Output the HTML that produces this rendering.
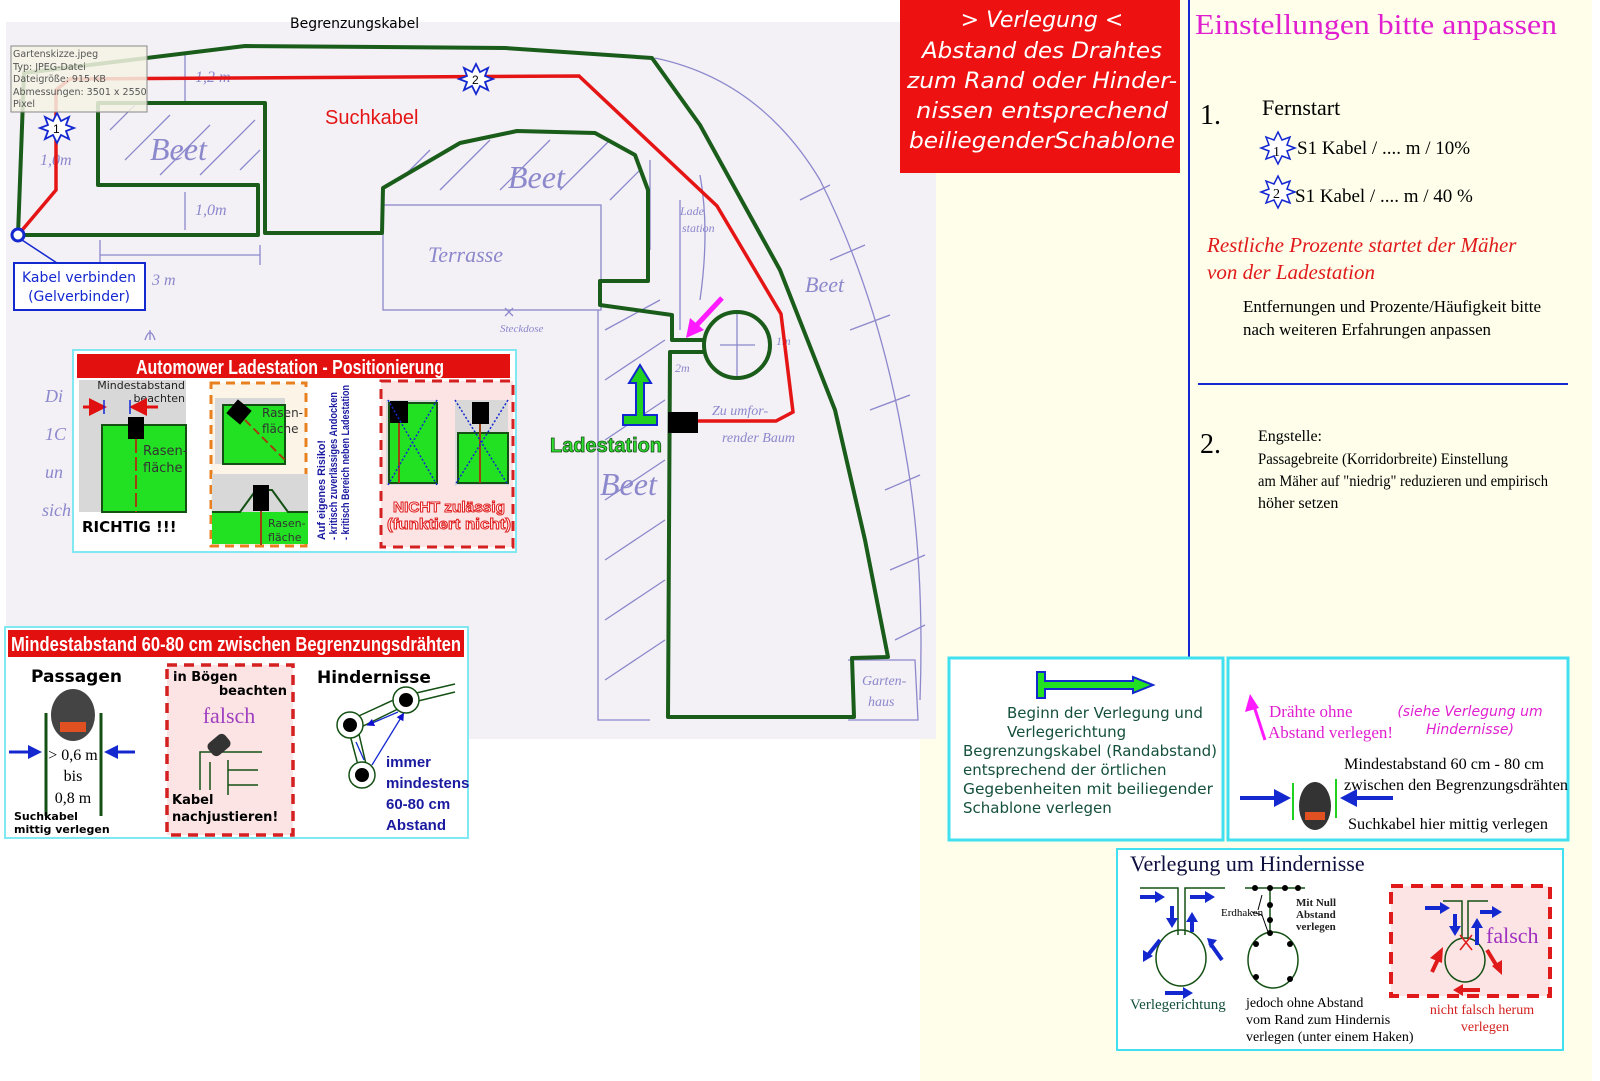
<!DOCTYPE html>
<html><head><meta charset="utf-8"><style>
html,body{margin:0;padding:0;background:#fff;}
svg{display:block;}
text{font-family:"Liberation Sans",sans-serif;}
.ser,.ser text{font-family:"Liberation Serif",serif;}
.dv,.dv text{font-family:"DejaVu Sans",sans-serif;}
.cond,.cond text{font-family:"Liberation Sans Narrow","Liberation Sans",sans-serif;}
</style></head><body>
<svg width="1600" height="1081" viewBox="0 0 1600 1081" xmlns="http://www.w3.org/2000/svg">
<defs>
<marker id="ahb" markerWidth="6" markerHeight="6" refX="3" refY="3" orient="auto-start-reverse"><path d="M0,0 L6,3 L0,6 z" fill="#1010d0"/></marker>
<marker id="ahr" markerWidth="6" markerHeight="6" refX="3" refY="3" orient="auto"><path d="M0,0 L6,3 L0,6 z" fill="#e01010"/></marker>
<marker id="ah" markerWidth="6" markerHeight="6" refX="3" refY="3" orient="auto"><path d="M0,0 L6,3 L0,6 z" fill="#1428d0"/></marker>
</defs>
<rect x="920" y="0" width="672" height="1081" fill="#fefeea"/>
<rect x="6" y="22" width="930" height="717" fill="#f3f0f6"/>

<g fill="none" stroke="#8c88cc" stroke-width="1.3">
<rect x="383" y="205" width="218" height="105"/>
<path d="M655,58 Q760,80 820,180 Q880,300 905,450 Q925,560 920,700"/>
<path d="M598,310 L598,720 L650,720"/>
<path d="M848,660 L915,660 L918,720 L848,720"/>
<path d="M100,240 L100,262 M100,255 L260,255 M260,245 L260,265"/>
<path d="M185,192 L185,230 M185,55 L185,103"/>
<path d="M650,160 L650,250 M680,200 L680,330 M700,175 Q710,230 700,300"/>
<path d="M737,312 L737,380 M720,345 L755,345"/>
<path d="M110,130 l25,-25 M125,160 l45,-45 M160,175 l50,-50 M200,175 l55,-55 M240,170 l20,-20"/>
<path d="M400,180 l30,-30 M440,190 l50,-50 M500,190 l50,-50 M560,190 l50,-50 M610,200 l30,-30"/>
<path d="M605,330 l55,-30 M605,380 l60,-40 M605,440 l60,-40 M605,500 l60,-40 M605,560 l60,-40 M605,620 l60,-40 M605,680 l60,-40"/>
<path d="M800,200 l30,-15 M830,260 l35,-15 M850,330 l40,-15 M870,410 l40,-15 M885,490 l35,-15 M890,570 l35,-15 M895,640 l30,-15"/>
<path d="M150,340 l0,-10 M145,340 q5,-15 10,0"/>
<path d="M505,308 l8,8 M513,308 l-8,8"/>
</g>
<g fill="#8c88cc" class="ser" font-style="italic">
<text x="150" y="160" font-size="32">Beet</text>
<text x="508" y="188" font-size="32">Beet</text>
<text x="428" y="262" font-size="22">Terrasse</text>
<text x="600" y="495" font-size="32">Beet</text>
<text x="805" y="292" font-size="22">Beet</text>
<text x="195" y="82" font-size="16">1,2 m</text>
<text x="195" y="215" font-size="16">1,0m</text>
<text x="40" y="165" font-size="16">1,0m</text>
<text x="152" y="285" font-size="16">3 m</text>
<text x="680" y="215" font-size="12">Lade</text>
<text x="682" y="232" font-size="12">station</text>
<text x="500" y="332" font-size="11">Steckdose</text>
<text x="712" y="415" font-size="14">Zu umfor-</text>
<text x="722" y="442" font-size="14">render Baum</text>
<text x="675" y="372" font-size="12">2m</text>
<text x="776" y="345" font-size="12">1m</text>
<text x="862" y="685" font-size="14">Garten-</text>
<text x="868" y="706" font-size="14">haus</text>
<text x="45" y="402" font-size="18">Di</text>
<text x="45" y="440" font-size="18">1C</text>
<text x="45" y="478" font-size="18">un</text>
<text x="42" y="516" font-size="18">sich</text>
</g>

<g fill="none" stroke="#1a5c1a" stroke-width="4" stroke-linejoin="round">
<path d="M18,235 L24,73 L245,46 L505,48 L652,58 L700,125 L780,270 L835,410 L865,540 L888,657 L852,658 L854,717 L668,717 L670,352 L705,352 M705,340 L672,340 L672,315 L600,305 L600,281 L648,281 L648,190 L635,155 L595,133 L517,131 L460,143 L383,188 L382,233 L265,233 L265,103 L98,103 L98,185 L258,185 L258,235 L18,235"/>
<circle cx="737" cy="345" r="33"/>
</g>
<path d="M18,235 L56,190 L56,90 L70,79 L579,76 L717,206 L781,314 L793,412 L776,421 L697,421" fill="none" stroke="#e51515" stroke-width="3.5"/>
<rect x="668" y="412" width="30" height="21" fill="#000"/>
<circle cx="18" cy="235" r="6" fill="#fff" stroke="#1428d0" stroke-width="3"/>
<path d="M22,240 L60,265" stroke="#1428d0" stroke-width="1.5"/>
<g fill="#fff" stroke="#1428d0" stroke-width="1.8">
<polygon points="57,113 61,121 69,117 66,125 74,128 66,131 69,139 61,135 57,143 53,135 45,139 48,131 40,128 48,125 45,117 53,121"/>
<polygon points="476,64 480,72 488,68 485,76 493,79 485,82 488,90 480,86 476,94 472,86 464,90 467,82 459,79 467,76 464,68 472,72"/>
</g>
<text x="53" y="133" font-size="12" fill="#000">1</text>
<text x="472" y="84" font-size="12" fill="#000">2</text>
<rect x="11" y="46" width="136" height="66" fill="#f5f3e4" fill-opacity="0.85" stroke="#888" stroke-width="1"/>
<g font-size="9.5" fill="#555" class="dv"><text x="13" y="57">Gartenskizze.jpeg</text><text x="13" y="70">Typ: JPEG-Datei</text><text x="13" y="82">Dateigröße: 915 KB</text><text x="13" y="95">Abmessungen: 3501 x 2550</text><text x="13" y="107">Pixel</text></g>

<text x="290" y="28" font-size="14" class="dv" fill="#000">Begrenzungskabel</text>
<text x="325" y="124" font-size="20" class="cond" fill="#e51515">Suchkabel</text>
<rect x="14" y="263" width="131" height="47" fill="#fff" stroke="#1428d0" stroke-width="2"/>
<text x="79" y="282" font-size="14" class="dv" fill="#1428d0" text-anchor="middle">Kabel verbinden</text>
<text x="79" y="301" font-size="14" class="dv" fill="#1428d0" text-anchor="middle">(Gelverbinder)</text>

<path d="M722,298 L694,328" stroke="#ff1aff" stroke-width="5"/>
<polygon points="686,338 690,318 704,330" fill="#ff1aff"/>
<polygon points="640,365 629,383 636,383 636,415 623,415 623,425 657,425 657,415 644,415 644,383 651,383" fill="#22d022" stroke="#1428d0" stroke-width="2"/>
<text x="550" y="452" font-size="20" font-weight="bold" class="cond" fill="#30e030" stroke="#145014" stroke-width="0.8" textLength="112" lengthAdjust="spacingAndGlyphs">Ladestation</text>

<rect x="73" y="350" width="443" height="202" fill="#fff" stroke="#7fe8f0" stroke-width="2"/>
<rect x="77" y="354" width="433" height="24" fill="#e31010"/>
<text x="290" y="374" font-size="20" font-weight="bold" class="cond" fill="#fff" text-anchor="middle" textLength="308" lengthAdjust="spacingAndGlyphs">Automower Ladestation - Positionierung</text>
<rect x="79" y="380" width="107" height="132" fill="#d8d8d8"/>
<rect x="102" y="425" width="84" height="87" fill="#22e022" stroke="#145014" stroke-width="2"/>
<rect x="128" y="417" width="16" height="22" fill="#000"/>
<path d="M136,439 L136,512" stroke="#a04010" stroke-width="2" stroke-dasharray="14,4"/>
<text x="185" y="389" font-size="11" class="dv" text-anchor="end" fill="#222">Mindestabstand</text>
<text x="185" y="402" font-size="11" class="dv" text-anchor="end" fill="#222">beachten</text>
<path d="M83,407 L98,407" stroke="#e31010" stroke-width="3" marker-end="url(#ahr)"/>
<path d="M158,407 L138,407" stroke="#e31010" stroke-width="3" marker-end="url(#ahr)"/>
<path d="M104,400 V414 M130,400 V414" stroke="#1428d0" stroke-width="1.5"/>
<text x="143" y="455" font-size="13" class="dv" fill="#333">Rasen-</text>
<text x="143" y="472" font-size="13" class="dv" fill="#333">fläche</text>
<text x="82" y="532" font-size="15" font-weight="bold" class="dv" fill="#000">RICHTIG !!!</text>

<rect x="211" y="383" width="95" height="163" fill="#fdf4e8" stroke="#e88020" stroke-width="3" stroke-dasharray="9,6"/>
<rect x="215" y="398" width="70" height="66" fill="#d8d8d8"/>
<rect x="223" y="405" width="62" height="59" fill="#22e022" stroke="#145014" stroke-width="2"/>
<rect x="230" y="403" width="18" height="18" fill="#000" transform="rotate(40 239 412)"/>
<path d="M245,420 L287,462" stroke="#a04010" stroke-width="2" stroke-dasharray="8,4"/>
<text x="262" y="417" font-size="12" class="dv" fill="#333">Rasen-</text>
<text x="262" y="433" font-size="12" class="dv" fill="#333">fläche</text>
<rect x="212" y="474" width="96" height="70" fill="#d8d8d8"/>
<rect x="212" y="512" width="96" height="32" fill="#22e022"/>
<path d="M212,512 L240,512 L256,490 L272,490 L288,512 L308,512" fill="none" stroke="#145014" stroke-width="2"/>
<rect x="253" y="485" width="16" height="26" fill="#000"/>
<path d="M261,511 L261,545" stroke="#a04010" stroke-width="2"/>
<text x="268" y="527" font-size="11" class="dv" fill="#333">Rasen-</text>
<text x="268" y="541" font-size="11" class="dv" fill="#333">fläche</text>
<g transform="translate(325,540) rotate(-90)" font-size="11" font-weight="bold" class="cond" fill="#1a1aa0">
<text x="0" y="0" textLength="100" lengthAdjust="spacingAndGlyphs">Auf eigenes Risiko!</text>
<text x="0" y="12" textLength="148" lengthAdjust="spacingAndGlyphs">- kritisch zuverlässiges Andocken</text>
<text x="0" y="24" textLength="155" lengthAdjust="spacingAndGlyphs">- kritisch Bereich neben Ladestation</text>
</g>

<rect x="381" y="381" width="132" height="166" fill="#fce4e4" stroke="#d42020" stroke-width="3" stroke-dasharray="10,7"/>
<rect x="386" y="400" width="52" height="85" fill="#d8d8d8"/>
<rect x="389" y="403" width="48" height="80" fill="#22e022" stroke="#145014" stroke-width="2"/>
<rect x="390" y="401" width="18" height="22" fill="#000"/>
<path d="M399,423 V483" stroke="#a04010" stroke-width="2"/>
<path d="M388,400 L437,485 M437,400 L388,485" stroke="#1428d0" stroke-width="1.5" stroke-dasharray="2,2"/>
<rect x="455" y="400" width="53" height="85" fill="#d8d8d8"/>
<rect x="458" y="433" width="50" height="50" fill="#22e022" stroke="#145014" stroke-width="2"/>
<rect x="472" y="402" width="17" height="22" fill="#000"/>
<path d="M480,424 V483" stroke="#a04010" stroke-width="2"/>
<path d="M455,400 L508,485 M508,400 L455,485" stroke="#1428d0" stroke-width="1.5" stroke-dasharray="2,2"/>
<text x="449" y="512" font-size="15" font-weight="bold" class="cond" fill="#fff" stroke="#e02020" stroke-width="1" text-anchor="middle" textLength="112" lengthAdjust="spacingAndGlyphs">NICHT zulässig</text>
<text x="449" y="529" font-size="15" font-weight="bold" class="cond" fill="#fff" stroke="#e02020" stroke-width="1" text-anchor="middle" textLength="124" lengthAdjust="spacingAndGlyphs">(funktiert nicht)</text>

<rect x="5" y="627" width="463" height="211" fill="#fff" stroke="#7fe8f0" stroke-width="2"/>
<rect x="8" y="630" width="456" height="27" fill="#e31010"/>
<text x="236" y="651" font-size="20" font-weight="bold" class="cond" fill="#fff" text-anchor="middle" textLength="450" lengthAdjust="spacingAndGlyphs">Mindestabstand 60-80 cm zwischen Begrenzungsdrähten</text>
<text x="31" y="682" font-size="17" font-weight="bold" class="dv" fill="#000">Passagen</text>
<path d="M46,713 V816 M101,713 V816" stroke="#145014" stroke-width="3"/>
<ellipse cx="73" cy="715" rx="22" ry="26" fill="#444"/>
<rect x="60" y="722" width="26" height="10" fill="#e05020"/>
<text x="73" y="760" font-size="16" class="ser" text-anchor="middle">&gt; 0,6 m</text>
<text x="73" y="781" font-size="16" class="ser" text-anchor="middle">bis</text>
<text x="73" y="803" font-size="16" class="ser" text-anchor="middle">0,8 m</text>
<path d="M9,752 L30,752" stroke="#1428d0" stroke-width="3"/><polygon points="42,752 28,745 28,759" fill="#1428d0"/>
<path d="M135,752 L116,752" stroke="#1428d0" stroke-width="3"/><polygon points="104,752 118,745 118,759" fill="#1428d0"/>
<text x="14" y="820" font-size="11" font-weight="bold" class="dv">Suchkabel</text>
<text x="14" y="833" font-size="11" font-weight="bold" class="dv">mittig verlegen</text>
<rect x="167" y="665" width="126" height="170" fill="#fce4e4" stroke="#d42020" stroke-width="3.5" stroke-dasharray="10,7"/>
<text x="173" y="681" font-size="13" font-weight="bold" class="dv">in Bögen</text>
<text x="287" y="695" font-size="13" font-weight="bold" class="dv" text-anchor="end">beachten</text>
<text x="229" y="723" font-size="22" class="ser" fill="#a040c0" text-anchor="middle">falsch</text>
<path d="M200,790 L200,752 L262,752 M210,790 L210,762 M228,795 L228,760 M228,770 L258,770 M228,785 L258,785" fill="none" stroke="#145014" stroke-width="1.5"/>
<rect x="208" y="737" width="22" height="16" rx="5" fill="#333" transform="rotate(-40 219 745)"/>
<text x="172" y="804" font-size="13" font-weight="bold" class="dv">Kabel</text>
<text x="172" y="821" font-size="13" font-weight="bold" class="dv">nachjustieren!</text>
<text x="317" y="683" font-size="17" font-weight="bold" class="dv">Hindernisse</text>
<g fill="none" stroke="#145014" stroke-width="1.5">
<path d="M350,720 L400,697 M355,730 L402,707 M412,694 L455,684 M414,702 L455,692 M350,735 L358,765 M358,730 L366,764"/>
<circle cx="350" cy="725" r="13" fill="#fff"/>
<circle cx="406" cy="700" r="13" fill="#fff"/>
<circle cx="362" cy="775" r="13" fill="#fff"/>
</g>
<circle cx="350" cy="725" r="7"/><circle cx="406" cy="700" r="7"/><circle cx="362" cy="775" r="7"/>
<path d="M370,724 L398,712 M356,742 L364,760 M372,765 L402,716" stroke="#1428d0" stroke-width="1.3" marker-start="url(#ahb)" marker-end="url(#ahb)"/>
<g font-size="15" font-weight="bold" class="cond" fill="#1a1aa0">
<text x="386" y="767">immer</text><text x="386" y="788">mindestens</text><text x="386" y="809">60-80 cm</text><text x="386" y="830">Abstand</text></g>

<rect x="900" y="0" width="280" height="173" fill="#ee1111"/>
<g font-size="22" class="dv" font-style="italic" fill="#fff" text-anchor="middle">
<text x="1042" y="27">&gt; Verlegung &lt;</text>
<text x="1042" y="58" textLength="240" lengthAdjust="spacingAndGlyphs">Abstand des Drahtes</text>
<text x="1042" y="88" textLength="270" lengthAdjust="spacingAndGlyphs">zum Rand oder Hinder-</text>
<text x="1042" y="118" textLength="252" lengthAdjust="spacingAndGlyphs">nissen entsprechend</text>
<text x="1042" y="148" textLength="266" lengthAdjust="spacingAndGlyphs">beiliegenderSchablone</text>
</g>

<path d="M1189,0 V657" stroke="#1428d0" stroke-width="2"/>
<path d="M1198,384 H1568" stroke="#1428d0" stroke-width="2"/>
<text x="1195" y="34" font-size="29" class="ser" fill="#e020d0" textLength="362" lengthAdjust="spacingAndGlyphs">Einstellungen bitte anpassen</text>
<text x="1200" y="124" font-size="28" class="ser">1.</text>
<text x="1262" y="115" font-size="22" class="ser">Fernstart</text>
<g fill="#fff" stroke="#1428d0" stroke-width="1.5">
<polygon points="1278,132 1282,140 1290,137 1287,145 1295,148 1287,151 1290,159 1282,156 1278,164 1274,156 1266,159 1269,151 1261,148 1269,145 1266,137 1274,140"/>
<polygon points="1278,176 1282,184 1290,181 1287,189 1295,192 1287,195 1290,203 1282,200 1278,208 1274,200 1266,203 1269,195 1261,192 1269,189 1266,181 1274,184"/>
</g>
<text x="1273" y="156" font-size="14" class="ser">1</text>
<text x="1273" y="198" font-size="14" class="ser">2</text>
<text x="1297" y="154" font-size="19" class="ser">S1 Kabel / .... m / 10%</text>
<text x="1295" y="202" font-size="19" class="ser">S1 Kabel / .... m / 40 %</text>
<text x="1207" y="252" font-size="21" class="ser" font-style="italic" fill="#e01a1a">Restliche Prozente  startet der Mäher</text>
<text x="1207" y="279" font-size="21" class="ser" font-style="italic" fill="#e01a1a">von der Ladestation</text>
<text x="1243" y="312" font-size="17" class="ser" textLength="298" lengthAdjust="spacingAndGlyphs">Entfernungen und Prozente/Häufigkeit bitte</text>
<text x="1243" y="335" font-size="17" class="ser" textLength="248" lengthAdjust="spacingAndGlyphs">nach weiteren Erfahrungen anpassen</text>
<text x="1200" y="453" font-size="28" class="ser">2.</text>
<g font-size="16" class="ser">
<text x="1258" y="441">Engstelle:</text>
<text x="1258" y="464" textLength="250" lengthAdjust="spacingAndGlyphs">Passagebreite (Korridorbreite) Einstellung</text>
<text x="1258" y="486" textLength="290" lengthAdjust="spacingAndGlyphs">am Mäher auf "niedrig" reduzieren und empirisch</text>
<text x="1258" y="508">höher setzen</text>
</g>

<rect x="949" y="658" width="274" height="182" fill="#fff" stroke="#40e0f0" stroke-width="3"/>
<polygon points="1037,672 1045,672 1045,681 1133,681 1133,677 1153,685 1133,693 1133,689 1045,689 1045,698 1037,698" fill="#22e022" stroke="#1428d0" stroke-width="2"/>
<g font-size="15" class="dv" fill="#14503c">
<text x="1007" y="718">Beginn der Verlegung und</text>
<text x="1007" y="737">Verlegerichtung</text>
<text x="963" y="756" textLength="254" lengthAdjust="spacingAndGlyphs">Begrenzungskabel (Randabstand)</text>
<text x="963" y="775">entsprechend der örtlichen</text>
<text x="963" y="794" textLength="250" lengthAdjust="spacingAndGlyphs">Gegebenheiten mit beiliegender</text>
<text x="963" y="813">Schablone verlegen</text>
</g>
<rect x="1228" y="658" width="340" height="182" fill="#fff" stroke="#40e0f0" stroke-width="3"/>
<path d="M1265,740 L1252,700" stroke="#ff1aff" stroke-width="3"/>
<polygon points="1250,694 1245,712 1259,708" fill="#ff1aff"/>
<text x="1269" y="717" font-size="17" class="ser" fill="#e020d0">Drähte ohne</text>
<text x="1268" y="738" font-size="17" class="ser" fill="#e020d0">Abstand verlegen!</text>
<text x="1470" y="716" font-size="14" class="dv" font-style="italic" fill="#e020d0" text-anchor="middle">(siehe Verlegung um</text>
<text x="1470" y="734" font-size="14" class="dv" font-style="italic" fill="#e020d0" text-anchor="middle">Hindernisse)</text>
<text x="1344" y="769" font-size="16" class="ser" textLength="200" lengthAdjust="spacingAndGlyphs">Mindestabstand 60 cm - 80 cm</text>
<text x="1344" y="790" font-size="16" class="ser" textLength="224" lengthAdjust="spacingAndGlyphs">zwischen den Begrenzungsdrähten</text>
<text x="1348" y="829" font-size="16" class="ser" textLength="200" lengthAdjust="spacingAndGlyphs">Suchkabel hier mittig verlegen</text>
<path d="M1293,783 V820 M1336,779 V818" stroke="#22d022" stroke-width="2"/>
<ellipse cx="1315" cy="806" rx="16" ry="24" fill="#333"/>
<rect x="1305" y="812" width="20" height="8" fill="#e05020"/>
<path d="M1240,798 L1278,798" stroke="#1428d0" stroke-width="4"/><polygon points="1291,798 1274,789 1274,807" fill="#1428d0"/>
<path d="M1393,798 L1355,798" stroke="#1428d0" stroke-width="4"/><polygon points="1340,798 1357,789 1357,807" fill="#1428d0"/>

<rect x="1117" y="849" width="446" height="201" fill="#fff" stroke="#40e0f0" stroke-width="2"/>
<text x="1130" y="871" font-size="22" class="ser" fill="#101040">Verlegung um Hindernisse</text>
<g fill="none" stroke="#145014" stroke-width="1.5">
<path d="M1140,888 H1178 V935 M1185,935 V888 H1225"/>
<ellipse cx="1181" cy="958" rx="25" ry="28"/>
<path d="M1245,888 H1305 M1270,890 V935"/>
<ellipse cx="1273" cy="960" rx="25" ry="28"/>
<path d="M1435,904 H1464 V940 M1470,940 V904 H1500"/>
<ellipse cx="1467" cy="960" rx="20" ry="22"/>
</g>
<g fill="#000"><circle cx="1255" cy="888" r="3"/><circle cx="1270" cy="888" r="3"/><circle cx="1285" cy="888" r="3"/><circle cx="1298" cy="888" r="3"/><circle cx="1270" cy="905" r="3"/><circle cx="1270" cy="920" r="3"/><circle cx="1270" cy="933" r="3"/><circle cx="1256" cy="944" r="3"/><circle cx="1290" cy="944" r="3"/><circle cx="1256" cy="977" r="3"/><circle cx="1290" cy="979" r="3"/></g>
<path d="M1262,895 L1258,910 M1252,912 L1262,915 L1268,932" fill="none" stroke="#000" stroke-width="1"/>
<g stroke="#1428d0" stroke-width="4">
<path d="M1140,897 H1160"/><path d="M1190,897 H1210"/><path d="M1172,906 V922"/><path d="M1192,932 V917"/>
<path d="M1160,940 L1148,955"/><path d="M1222,960 L1210,943"/><path d="M1165,993 H1185"/>
</g>
<g fill="#1428d0"><polygon points="1165,897 1155,891 1155,903"/><polygon points="1215,897 1205,891 1205,903"/><polygon points="1172,928 1166,918 1178,918"/><polygon points="1192,912 1186,922 1198,922"/><polygon points="1143,962 1143,950 1153,956"/><polygon points="1207,938 1217,940 1210,948"/><polygon points="1193,993 1183,987 1183,999"/></g>
<text x="1130" y="1009" font-size="15" class="ser" fill="#14503c">Verlegerichtung</text>
<text x="1221" y="916" font-size="11" class="ser">Erdhaken</text>
<g font-size="11" class="ser" font-weight="bold" fill="#222"><text x="1296" y="906">Mit Null</text><text x="1296" y="918">Abstand</text><text x="1296" y="930">verlegen</text></g>
<g font-size="14" class="ser"><text x="1246" y="1007">jedoch ohne Abstand</text><text x="1246" y="1024">vom Rand zum Hindernis</text><text x="1246" y="1041">verlegen (unter einem Haken)</text></g>
<rect x="1391" y="886" width="159" height="110" fill="#fce4e4" stroke="#e01a1a" stroke-width="4" stroke-dasharray="12,8"/>
<g fill="none" stroke="#145014" stroke-width="1.5">
<path d="M1443,901 H1462 V938 M1468,938 V901 H1488"/>
<ellipse cx="1465" cy="960" rx="20" ry="22"/>
</g>
<path d="M1460,935 L1472,950 M1472,935 L1460,950" stroke="#e01a1a" stroke-width="1.5"/>
<g stroke="#1428d0" stroke-width="4"><path d="M1425,908 H1445"/><path d="M1480,912 H1496"/><path d="M1455,914 V930"/><path d="M1477,945 V925"/></g>
<g fill="#1428d0"><polygon points="1450,908 1440,902 1440,914"/><polygon points="1502,912 1492,906 1492,918"/><polygon points="1455,936 1449,926 1461,926"/><polygon points="1477,918 1471,928 1483,928"/></g>
<g stroke="#e01a1a" stroke-width="4"><path d="M1432,972 L1440,955"/><path d="M1487,950 L1498,968"/><path d="M1480,990 H1460"/></g>
<g fill="#e01a1a"><polygon points="1443,947 1430,958 1442,963"/><polygon points="1502,975 1492,966 1502,960"/><polygon points="1453,990 1463,984 1463,996"/></g>
<text x="1486" y="943" font-size="22" class="ser" fill="#a030c0">falsch</text>
<text x="1482" y="1014" font-size="14" class="ser" fill="#d42020" text-anchor="middle">nicht falsch herum</text>
<text x="1485" y="1031" font-size="14" class="ser" fill="#d42020" text-anchor="middle">verlegen</text>
</svg>
</body></html>
